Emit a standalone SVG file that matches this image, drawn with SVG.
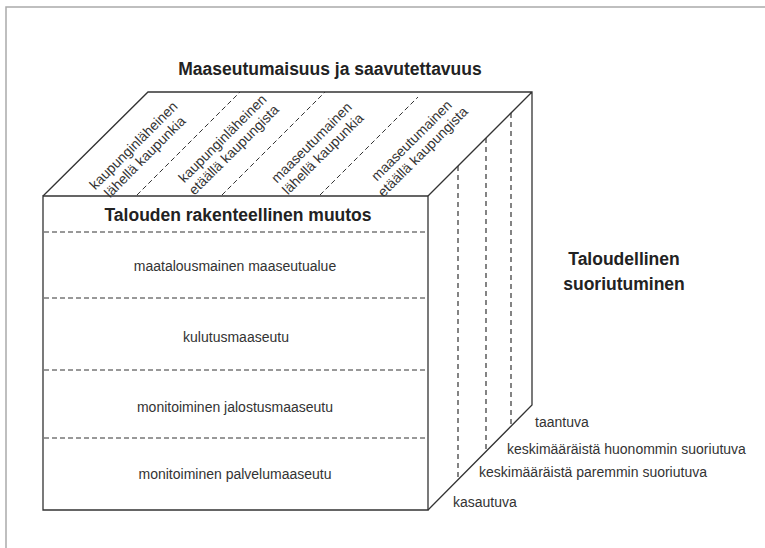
<svg xmlns="http://www.w3.org/2000/svg" width="765" height="548" viewBox="0 0 765 548">
<style>
.solid{fill:none;stroke:#333;stroke-width:1.3}
.dash{fill:none;stroke:#333;stroke-width:1;stroke-dasharray:5,3}
.vdash{fill:none;stroke:#333;stroke-width:1.2;stroke-dasharray:5,4}
.t{font-family:"Liberation Sans",Arial,sans-serif;font-size:14px;fill:#333}
.b{font-family:"Liberation Sans",Arial,sans-serif;font-size:17.5px;font-weight:bold;fill:#222}
</style>
<rect width="765" height="548" fill="#fff"/>
<path d="M6,548 V7 H765" fill="none" stroke="#aaa" stroke-width="1.5"/>
<g id="cube">
<path class="solid" d="M43,196 H428 V510 H43 Z"/>
<path class="solid" d="M43,196 L148,92 H532 V405 L428,510 M428,196 L532,92"/>
</g>
<g id="connectors">
<path class="dash" d="M137,195 L240,92 M222,195 L325,92 M320,195 L418,97"/>
<path class="dash" d="M44,232 H428 M44,298 H428 M44,370 H428 M44,438 H428"/>
<path class="vdash" d="M458,166 V480 M486,138 V452 M511,113 V427"/>
</g>
<g id="title"><text class="b" x="330" y="75" text-anchor="middle">Maaseutumaisuus ja saavutettavuus</text></g>
<g id="top-labels">
<g id="col1" transform="translate(139,151) rotate(-45)"><text class="t" text-anchor="middle"><tspan x="0" y="-3">kaupunginläheinen</tspan><tspan x="0" y="13">lähellä kaupunkia</tspan></text></g>
<g id="col2" transform="translate(228,144) rotate(-45)"><text class="t" text-anchor="middle"><tspan x="0" y="-3">kaupunginläheinen</tspan><tspan x="0" y="13">etäällä kaupungista</tspan></text></g>
<g id="col3" transform="translate(317,148) rotate(-45)"><text class="t" text-anchor="middle"><tspan x="0" y="-3">maaseutumainen</tspan><tspan x="0" y="13">lähellä kaupunkia</tspan></text></g>
<g id="col4" transform="translate(417,146) rotate(-45)"><text class="t" text-anchor="middle"><tspan x="0" y="-3">maaseutumainen</tspan><tspan x="0" y="13">etäällä kaupungista</tspan></text></g>
</g>
<g id="front-labels">
<text class="b" x="238" y="221" text-anchor="middle">Talouden rakenteellinen muutos</text>
<text class="t" x="235" y="271" text-anchor="middle">maatalousmainen maaseutualue</text>
<text class="t" x="236" y="342" text-anchor="middle">kulutusmaaseutu</text>
<text class="t" x="235" y="412" text-anchor="middle">monitoiminen jalostusmaaseutu</text>
<text class="t" x="235" y="479" text-anchor="middle">monitoiminen palvelumaaseutu</text>
</g>
<g id="side-title"><text class="b" text-anchor="middle"><tspan x="624" y="265">Taloudellinen</tspan><tspan x="624" y="290">suoriutuminen</tspan></text></g>
<g id="side-labels">
<text class="t" x="535" y="427">taantuva</text>
<text class="t" x="507" y="454">keskimääräistä huonommin suoriutuva</text>
<text class="t" x="479" y="477">keskimääräistä paremmin suoriutuva</text>
<text class="t" x="453" y="507">kasautuva</text>
</g>
</svg>
